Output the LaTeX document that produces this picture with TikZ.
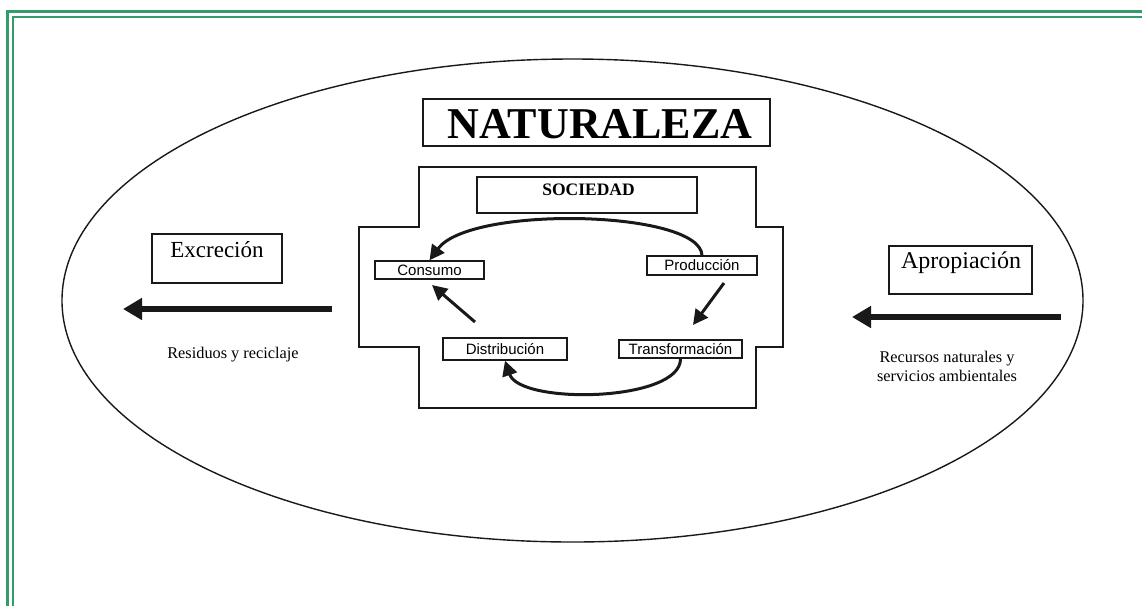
\documentclass[tikz,border=0pt]{standalone}
\usepackage{fontspec}
\setmainfont{Liberation Serif}
\newfontfamily\arialfont{Liberation Sans}
\usetikzlibrary{arrows.meta,shapes.geometric}
\definecolor{framegreen}{RGB}{52,156,104}
\tikzset{
  boxline/.style={draw=black!90, line width=1.4pt},
  smallbox/.style={boxline, inner sep=0pt, font=\arialfont\fontsize{15}{16}\selectfont},
  emptybox/.style={boxline, inner sep=0pt},
  cyclearrow/.style={draw=black!90, line width=3pt, -{Triangle[length=15pt,width=15pt]}},
  bigarrow/.style={draw=black!90, line width=6.5pt, -{Triangle[length=19pt,width=21pt]}},
  serifsmall/.style={font=\fontsize{16.3}{18.5}\selectfont, inner sep=0pt, align=center},
  frameline/.style={draw=framegreen, line width=2.4pt}
}
\begin{document}
\begin{tikzpicture}[x=1pt,y=-1pt]
\useasboundingbox (0,0) rectangle (1142,606);
% frame
\draw[frameline] (7.5,606) -- (7.5,11.5) -- (1142,11.5);
\draw[frameline] (13,606) -- (13,16.8) -- (1142,16.8);
% ellipse
\node[draw=black!90, line width=1.4pt, ellipse, minimum width=1021pt, minimum height=483pt, inner sep=0pt] (nat) at (572.5,300.5) {};
% title
\node[emptybox, minimum width=347pt, minimum height=47pt] (natbox) at (596.5,122.5) {};
\node[font=\bfseries\fontsize{44}{46}\selectfont, inner sep=0pt] (nattext) at (600,124.5) {NATURALEZA};
% sociedad outline
\draw[boxline] (419,167) -- (756,167) -- (756,227) -- (783,227) -- (783,347) -- (756,347) -- (756,408) -- (419,408) -- (419,347) -- (359,347) -- (359,227) -- (419,227) -- cycle;
\node[emptybox, minimum width=220pt, minimum height=36pt] (socbox) at (587,195) {};
\node[font=\bfseries\fontsize{17.5}{19}\selectfont, inner sep=0pt] (soctext) at (588.5,190) {SOCIEDAD};
% cycle boxes
\node[smallbox, minimum width=109pt, minimum height=18pt] (cons) at (429.5,270) {Consumo};
\node[smallbox, minimum width=110pt, minimum height=19pt] (prod) at (702,265.5) {Producción};
\node[smallbox, minimum width=124pt, minimum height=22pt] (dist) at (505,349) {Distribución};
\node[smallbox, minimum width=123pt, minimum height=18pt] (trans) at (680.5,349) {Transformación};
% cycle arrows
\draw[cyclearrow] (prod.north) .. controls (700,210) and (470,205) .. (cons.north);
\draw[cyclearrow] (trans.south) .. controls (681,402) and (520,405) .. (dist.south);
\coordinate (pt1) at (724,283);
\coordinate (pt2) at (693,325);
\coordinate (dc1) at (475,322);
\coordinate (dc2) at (432,285);
\draw[cyclearrow] (pt1) -- (pt2);
\draw[cyclearrow] (dc1) -- (dc2);
% side boxes
\node[emptybox, minimum width=130pt, minimum height=49pt] (excbox) at (217,258.5) {};
\node[font=\fontsize{23}{25}\selectfont, inner sep=0pt] (exctext) at (217,250) {Excreción};
\node[emptybox, minimum width=143pt, minimum height=48pt] (apbox) at (960.5,270) {};
\node[font=\fontsize{24}{26}\selectfont, inner sep=0pt] (aptext) at (961,263) {Apropiación};
% big arrows
\coordinate (l1) at (332,309);
\coordinate (l2) at (123,309);
\coordinate (r1) at (1061,317);
\coordinate (r2) at (852,317);
\draw[bigarrow] (l1) -- (l2);
\draw[bigarrow] (r1) -- (r2);
% texts
\node[serifsmall] (res) at (233,355) {Residuos y reciclaje};
\node[serifsmall] (rec) at (947,366.5) {Recursos naturales y\\servicios ambientales};
\end{tikzpicture}
\end{document}
